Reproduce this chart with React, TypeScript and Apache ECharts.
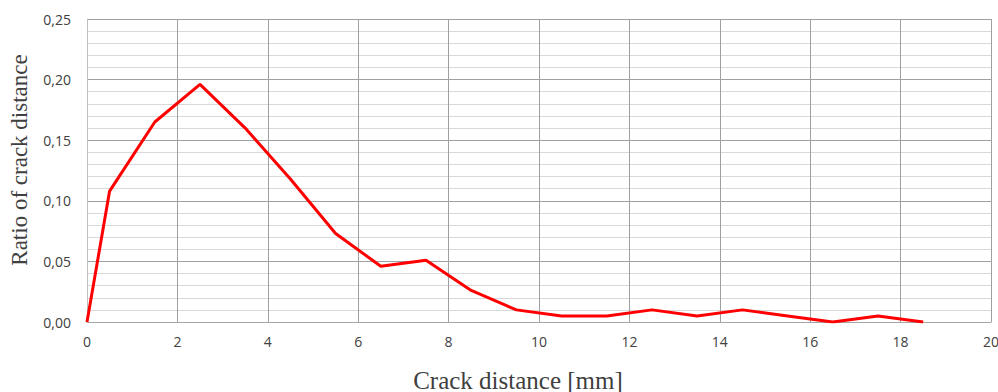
import React, { useEffect, useRef } from "react";
import * as echarts from "echarts";

const crackDistance = [0, 0.5, 1.5, 2.5, 3.5, 4.5, 5.5, 6.5, 7.5, 8.5, 9.5, 10.5, 11.5, 12.5, 13.5, 14.5, 15.5, 16.5, 17.5, 18.5];
const ratio = [0, 0.108, 0.165, 0.196, 0.16, 0.118, 0.073, 0.046, 0.051, 0.026, 0.01, 0.005, 0.005, 0.01, 0.005, 0.01, 0.005, 0, 0.005, 0];

const xTitle = "Crack distance [mm]";
const yTitle = "Ratio of crack distance";

export default function App() {
  const ref = useRef<HTMLDivElement>(null);
  useEffect(() => {
    document.body.style.margin = "0";
    const chart = echarts.init(ref.current!, null, { renderer: "svg" });
    chart.setOption({
      animation: false,
      backgroundColor: "#ffffff",
      grid: { left: 87, right: 7, top: 19, bottom: 70, outerBoundsMode: "none", containLabel: false },
      xAxis: {
        type: "value",
        min: 0,
        max: 20,
        interval: 2,
        axisLine: { show: true, lineStyle: { color: "#a6a6a6", width: 1 } },
        axisTick: { show: false },
        axisLabel: { fontFamily: "Open Sans", fontSize: 14, color: "#404040", margin: 12 },
        splitLine: { show: true, lineStyle: { color: "#a0a0a0", width: 1 } },
      },
      yAxis: {
        type: "value",
        min: 0,
        max: 0.25,
        interval: 0.05,
        axisLine: { show: true, lineStyle: { color: "#bfbfbf", width: 1 } },
        axisTick: { show: false },
        axisLabel: {
          fontFamily: "Open Sans",
          fontSize: 14,
          color: "#404040",
          margin: 16,
          formatter: (v: number) => v.toFixed(2).replace(".", ","),
        },
        splitLine: { show: true, lineStyle: { color: "#a0a0a0", width: 1 } },
        minorTick: { show: false, splitNumber: 5 },
        minorSplitLine: { show: true, lineStyle: { color: "#d9d9d9", width: 1 } },
      },
      series: [
        {
          type: "line",
          data: crackDistance.map((x, i) => [x, ratio[i]]),
          showSymbol: false,
          symbol: "none",
          lineStyle: { color: "#ff0000", width: 3 },
        },
      ],
      graphic: [
        {
          type: "text",
          x: 518,
          y: 380,
          style: {
            text: xTitle,
            fontFamily: "Liberation Serif",
            fontSize: 25,
            fill: "#404040",
            textAlign: "center",
            textVerticalAlign: "middle",
          },
        },
        {
          type: "text",
          x: 19,
          y: 160,
          rotation: Math.PI / 2,
          style: {
            text: yTitle,
            fontFamily: "Liberation Serif",
            fontSize: 23,
            fill: "#404040",
            textAlign: "center",
            textVerticalAlign: "middle",
          },
        },
      ],
    });
    return () => chart.dispose();
  }, []);
  return <div ref={ref} style={{ width: 998, height: 392 }} />;
}
